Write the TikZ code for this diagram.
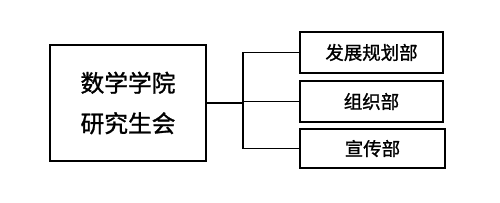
\documentclass[tikz,border=0pt]{standalone}
\usepackage{fontspec}
\newfontfamily\cjk[FakeBold=1.2]{Noto Sans CJK SC}
\begin{document}
\begin{tikzpicture}[line width=1pt]
  \tikzstyle{hui}=[draw, rectangle, minimum width=3.12cm, minimum height=2.32cm,
                   align=center, font=\cjk\fontsize{13.5}{23}\selectfont, inner sep=0pt]
  \tikzstyle{bu}=[draw, rectangle, minimum width=2.86cm, minimum height=0.82cm,
                  font=\cjk\fontsize{10.5}{12}\selectfont, inner sep=0pt]
  \useasboundingbox (0,0) rectangle (10,4.04);

  \node[hui] (main) at (2.56,1.98) {数学学院\\研究生会};

  \node[bu] (plan) at (7.43,2.99) {发展规划部};
  \node[bu] (org) at (7.43,2.01) {组织部};
  \node[bu, minimum width=2.9cm, minimum height=0.78cm] (pub) at (7.45,1.07) {宣传部};

  \coordinate (fork) at (4.86,1.98);
  \draw (main.east) -- (fork);
  \draw (plan.west) -| (fork) |- (pub.west);
  \draw (fork) -- (fork |- org.west) -- (org.west);
\end{tikzpicture}
\end{document}
